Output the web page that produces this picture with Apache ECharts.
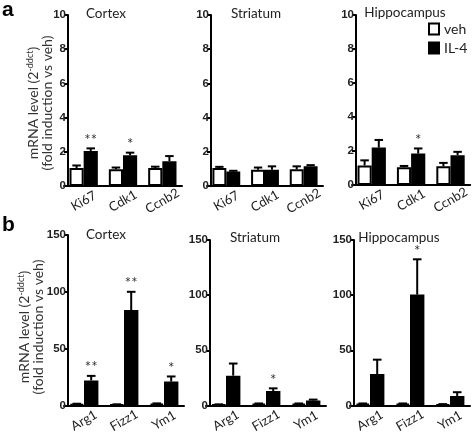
<!DOCTYPE html>
<html><head><meta charset="utf-8">
<script src="https://cdn.jsdelivr.net/npm/echarts@6/dist/echarts.min.js"></script>
<style>html,body{margin:0;padding:0;background:#fff}#c{width:472px;height:435px}</style>
</head><body><div id="c"></div>
<script>
// ---- data ----
const aCategories = ['Ki67', 'Cdk1', 'Ccnb2'];
const bCategories = ['Arg1', 'Fizz1', 'Ym1'];
const aTicks = [0, 2, 4, 6, 8, 10];
const bTicks = [0, 50, 100, 150];

const aCortexVeh = [1.05, 0.98, 1.05];
const aCortexVehSem = [0.15, 0.1, 0.08];
const aCortexIL4 = [2.05, 1.8, 1.45];
const aCortexIL4Sem = [0.15, 0.15, 0.3];
const aCortexStars = ['**', '*', ''];

const aStriatumVeh = [1.05, 0.95, 0.98];
const aStriatumVehSem = [0.07, 0.13, 0.17];
const aStriatumIL4 = [0.85, 0.95, 1.15];
const aStriatumIL4Sem = [0.04, 0.2, 0.07];
const aStriatumStars = ['', '', ''];

const aHippoVeh = [1.15, 1.05, 1.1];
const aHippoVehSem = [0.3, 0.07, 0.2];
const aHippoIL4 = [2.2, 1.85, 1.75];
const aHippoIL4Sem = [0.45, 0.3, 0.2];
const aHippoStars = ['', '*', ''];

const bCortexVeh = [1.2, 0.8, 1.5];
const bCortexVehSem = [0.3, 0.2, 0.3];
const bCortexIL4 = [22, 84, 21];
const bCortexIL4Sem = [4, 16, 4.5];
const bCortexStars = ['**', '**', '*'];

const bStriatumVeh = [0.8, 1.5, 1.5];
const bStriatumVehSem = [0.2, 0.3, 0.3];
const bStriatumIL4 = [27, 13, 4.5];
const bStriatumIL4Sem = [11, 2.5, 0.8];
const bStriatumStars = ['', '*', ''];

const bHippoVeh = [1.5, 1.5, 1.0];
const bHippoVehSem = [0.3, 0.3, 0.2];
const bHippoIL4 = [28.5, 100.5, 8.5];
const bHippoIL4Sem = [13, 32, 3.5];
const bHippoStars = ['', '*', ''];

// ---- layout ----
const FONT = 'Lato, "Open Sans", sans-serif';
const panels = [
  {title: 'Cortex', cats: aCategories, veh: aCortexVeh, vehSem: aCortexVehSem, il4: aCortexIL4, il4Sem: aCortexIL4Sem, stars: aCortexStars, ticks: aTicks,
   left: 64, width: 118, top: 15, height: 171, titleX: 101, titleY: 2},
  {title: 'Striatum', cats: aCategories, veh: aStriatumVeh, vehSem: aStriatumVehSem, il4: aStriatumIL4, il4Sem: aStriatumIL4Sem, stars: aStriatumStars, ticks: aTicks,
   left: 207, width: 116, top: 15, height: 171, titleX: 251, titleY: 2},
  {title: 'Hippocampus', cats: aCategories, veh: aHippoVeh, vehSem: aHippoVehSem, il4: aHippoIL4, il4Sem: aHippoIL4Sem, stars: aHippoStars, ticks: aTicks,
   left: 352, width: 120, top: 15, height: 170, titleX: 400, titleY: 1},
  {title: 'Cortex', cats: bCategories, veh: bCortexVeh, vehSem: bCortexVehSem, il4: bCortexIL4, il4Sem: bCortexIL4Sem, stars: bCortexStars, ticks: bTicks,
   left: 64, width: 120, top: 235, height: 173, titleX: 101, titleY: 223},
  {title: 'Striatum', cats: bCategories, veh: bStriatumVeh, vehSem: bStriatumVehSem, il4: bStriatumIL4, il4Sem: bStriatumIL4Sem, stars: bStriatumStars, ticks: bTicks,
   left: 206, width: 120, top: 240, height: 169, titleX: 250, titleY: 226},
  {title: 'Hippocampus', cats: bCategories, veh: bHippoVeh, vehSem: bHippoVehSem, il4: bHippoIL4, il4Sem: bHippoIL4Sem, stars: bHippoStars, ticks: bTicks,
   left: 350, width: 120, top: 240, height: 169, titleX: 394, titleY: 226}
];
const BARW = 0.36;

const grid = [], xAxis = [], yAxis = [], series = [], title = [];
panels.forEach((p, k) => {
  grid.push({left: p.left, top: p.top, width: p.width, height: p.height, containLabel: false});
  title.push({text: p.title, left: p.titleX, top: p.titleY, textAlign: 'center',
    textStyle: {fontFamily: FONT, fontSize: 13.5, fontWeight: 'normal', color: '#222'}});
  xAxis.push({type: 'category', gridIndex: k, data: p.cats,
    axisLine: {lineStyle: {color: '#000', width: 2}},
    axisTick: {show: false},
    axisLabel: {rotate: 30, align: 'center', verticalAlign: 'middle', margin: 15,
      fontFamily: FONT, fontSize: 13, color: '#222', interval: 0}});
  const tmax = p.ticks[p.ticks.length - 1];
  yAxis.push({type: 'value', gridIndex: k, min: p.ticks[0], max: tmax, interval: p.ticks[1] - p.ticks[0],
    offset: -4,
    axisLine: {show: true, lineStyle: {color: '#000', width: 2}},
    axisTick: {show: true, length: 4, lineStyle: {color: '#000', width: 2}},
    splitLine: {show: false},
    axisLabel: {margin: 2, fontFamily: '"Liberation Sans", Arial, sans-serif', fontWeight: 'bold', fontSize: 11.5, color: '#222'}});
  series.push({name: 'veh', type: 'bar', xAxisIndex: k, yAxisIndex: k, data: p.veh,
    barWidth: (BARW * 100) + '%', barGap: '0%',
    itemStyle: {color: '#fff', borderColor: '#000', borderWidth: 2}});
  series.push({name: 'IL-4', type: 'bar', xAxisIndex: k, yAxisIndex: k, data: p.il4,
    barWidth: (BARW * 100) + '%', barGap: '0%',
    itemStyle: {color: '#000', borderColor: '#000', borderWidth: 2}});
  series.push({name: 'err', type: 'custom', xAxisIndex: k, yAxisIndex: k, z: 5,
    data: p.cats.map((c, i) => [i, p.il4[i] + p.il4Sem[i]]),
    encode: {x: 0, y: 1},
    renderItem: function (params, api) {
      const i = api.value(0);
      const band = api.size([1, 0])[0];
      const bw = band * BARW;
      const cx = api.coord([i, 0])[0];
      const capW = bw * 0.6;
      const children = [];
      let starY = null;
      [[cx - bw / 2, p.veh[i], p.vehSem[i]], [cx + bw / 2, p.il4[i], p.il4Sem[i]]].forEach(function (it) {
        const x = it[0];
        const y1 = api.coord([i, it[1]])[1];
        const y2 = api.coord([i, it[1] + it[2]])[1];
        starY = y2;
        children.push({type: 'line', shape: {x1: x, y1: y1, x2: x, y2: y2}, style: {stroke: '#000', lineWidth: 2}});
        children.push({type: 'line', shape: {x1: x - capW / 2, y1: y2, x2: x + capW / 2, y2: y2}, style: {stroke: '#000', lineWidth: 2}});
      });
      if (p.stars[i]) {
        children.push({type: 'text', style: {text: p.stars[i], x: cx + bw / 2, y: starY - 1,
          align: 'center', verticalAlign: 'bottom', fontSize: 15, fontFamily: FONT, fill: '#333'}});
      }
      return {type: 'group', children: children};
    }});
});

const yTitle = '{n|mRNA level (2}{s|-ddct}{n|)}\n{n|(fold induction vs veh)}';
const yRich = {n: {fontFamily: FONT, fontSize: 14, fill: '#333', lineHeight: 14},
               s: {fontFamily: FONT, fontSize: 9, fill: '#333', verticalAlign: 'top', lineHeight: 14}};

const option = {
  animation: false,
  backgroundColor: '#fff',
  title: title,
  grid: grid, xAxis: xAxis, yAxis: yAxis, series: series,
  legend: {data: ['veh', 'IL-4'], orient: 'vertical', left: 428, top: 22, itemWidth: 10, itemHeight: 11, itemGap: 5,
    padding: 0, icon: 'rect', textStyle: {fontFamily: FONT, fontSize: 14, color: '#222'}},
  graphic: [
    {type: 'text', x: 2, y: 0, style: {text: 'a', fontFamily: '"Liberation Sans", Arial', fontWeight: 'bold', fontSize: 21, fill: '#000'}},
    {type: 'text', x: 2, y: 215, style: {text: 'b', fontFamily: '"Liberation Sans", Arial', fontWeight: 'bold', fontSize: 21, fill: '#000'}},
    {type: 'text', x: 40, y: 103, rotation: Math.PI / 2,
     style: {text: yTitle, rich: yRich, align: 'center', verticalAlign: 'middle'}},
    {type: 'text', x: 31, y: 327, rotation: Math.PI / 2,
     style: {text: yTitle, rich: yRich, align: 'center', verticalAlign: 'middle'}}
  ]
};
const chart = echarts.init(document.getElementById('c'), null, {renderer: 'canvas'});
chart.setOption(option);
</script>
</body></html>
